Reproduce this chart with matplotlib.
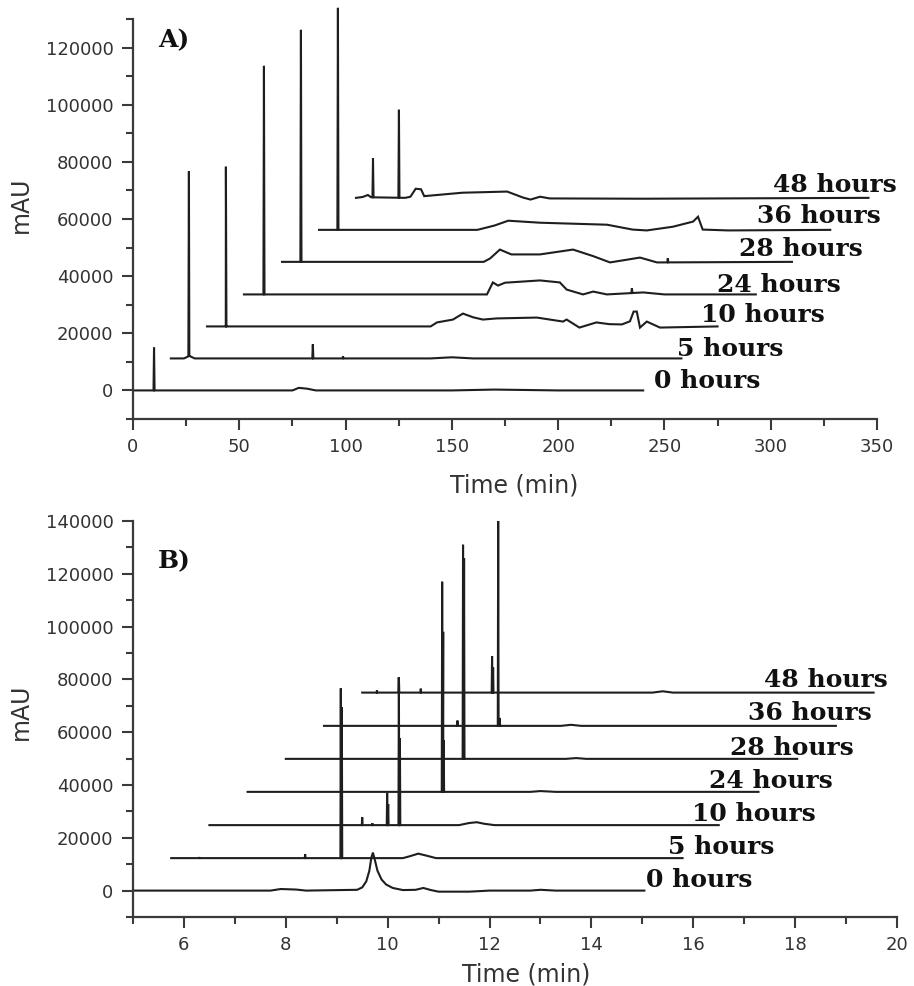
import matplotlib
matplotlib.use("Agg")
import matplotlib.pyplot as plt
import numpy as np
from matplotlib.ticker import MultipleLocator

# --- Panel A: long run (0-350 min), stacked chromatograms ---
A_labels = ["0 hours", "5 hours", "10 hours", "24 hours", "28 hours", "36 hours", "48 hours"]
A_start = [0, 17.8, 34.8, 52.2, 70.1, 87.5, 104.9]
A_end = [240, 258, 275, 293, 310, 328, 346]
A_base = [0, 11200, 22400, 33600, 45000, 56200, 67400]

# slow features: (time, signal above baseline)
A_shape = [
    [(75, 0), (78, 900), (82, 600), (86, 0), (150, 0), (170, 300), (200, 0)],
    [(24, 0), (26.5, 900), (29, 0), (140, 0), (150, 400), (160, 0)],
    [(140, 0), (143, 1400), (150.5, 2400), (155.2, 4500), (160, 3200), (164.6, 2400),
     (171, 2800), (190, 3100), (202.3, 1700), (204, 2400), (210, -400), (218, 1400),
     (224, 800), (230, 700), (233.8, 1800), (235.5, 5200), (237, 5200), (238.5, -400),
     (241.7, 1700), (247.9, -400)],
    [(166.5, 0), (169.3, 4200), (171.7, 3100), (175, 4100), (191.4, 4900), (200.8, 4200),
     (204, 1700), (211.7, 0), (216.5, 1000), (222.9, 0), (240, 700), (250, 0)],
    [(165, 0), (168, 1200), (172.6, 4300), (178, 2600), (191.4, 2600), (207, 4300),
     (216.5, 2000), (224.4, -200), (238.5, 1500), (246.5, -200)],
    [(162, 0), (170, 1500), (176.5, 3200), (191.5, 2500), (223, 1800), (235, 100),
     (241.7, -200), (254, 1100), (263.5, 2900), (265.8, 4600), (268, 100), (280, -200)],
    [(108, 300), (110.5, 1000), (112, 200), (128, 0), (130.5, 400), (133, 3200),
     (135.5, 3000), (137, 600), (155, 1800), (176, 2200), (183.5, 100), (187, -600),
     (191.5, 400), (196, -200), (240, -300)],
]
# sharp peaks: (time, height above baseline)
A_peaks = [
    [(9.9, 15000)],
    [(26.3, 64700), (84.6, 4900), (98.8, 700)],
    [(43.7, 55900), (43.9, 12200)],
    [(61.6, 80000), (234.7, 1700)],
    [(79.0, 81200), (251.6, 1500)],
    [(96.4, 77700)],
    [(112.9, 13700), (125.1, 30800)],
]
A_text_x = [245, 256, 267, 274.7, 285, 293.5, 301]
A_text_y = [1000, 12200, 23800, 34600, 46900, 58700, 69600]

# --- Panel B: short run (5-20 min) ---
B_labels = A_labels
B_start = [5, 5.75, 6.5, 7.25, 8.0, 8.75, 9.5]
B_end = [15.04, 15.79, 16.5, 17.28, 18.04, 18.8, 19.54]
B_base = [0, 12300, 24800, 37400, 49900, 62400, 75000]

B_shape = [
    [(7.7, 0), (7.9, 600), (8.2, 400), (8.4, 0), (9.4, 300), (9.5, 1200), (9.58, 3500),
     (9.64, 7500), (9.68, 12500), (9.71, 14400), (9.75, 11500), (9.8, 7500), (9.88, 4200),
     (9.97, 2300), (10.1, 1000), (10.3, 200), (10.55, 300), (10.7, 1000), (10.85, 200),
     (11.0, -400), (11.6, -400), (12.0, 0), (12.8, 0), (13.0, 300), (13.3, 0)],
    [(10.3, 0), (10.45, 800), (10.6, 1700), (10.75, 1000), (10.95, 0)],
    [(11.4, 0), (11.6, 800), (11.75, 1100), (11.9, 500), (12.1, 0)],
    [(12.8, 0), (13.0, 300), (13.3, 0)],
    [(13.5, 0), (13.7, 300), (13.9, 0)],
    [(13.4, 0), (13.6, 400), (13.8, 0)],
    [(15.2, 0), (15.4, 500), (15.6, 0)],
]
B_peaks = [
    [],
    [(6.3, 300), (8.38, 1500), (9.08, 64300), (9.10, 57200)],
    [(9.5, 3000), (9.7, 700), (9.99, 12200), (10.01, 8000), (10.22, 56000), (10.24, 33000)],
    [(11.07, 79600), (11.09, 60600), (11.10, 19600)],
    [(11.48, 81100), (11.50, 76000)],
    [(11.37, 2000), (12.17, 77600), (12.20, 3000)],
    [(9.79, 800), (10.22, 5800), (10.65, 1500), (12.05, 13800), (12.07, 9600)],
]
B_text_x = [15.08, 15.51, 15.98, 16.3, 16.73, 17.08, 17.38]
B_text_y = [1500, 14000, 26200, 38700, 51200, 64500, 77000]

LINE = "#1e1e1e"
AXC = "#3a3a3a"
LABEL_FONT = dict(family="DejaVu Serif", fontweight="bold", fontsize=18, color="#111111")


def trace(start, end, base, shape, peaks, w):
    # baseline + slow features, then narrow spikes on top
    pts = [(start, 0)] + [p for p in shape if start < p[0] < end] + [(end, 0)]
    tx = np.array([p[0] for p in pts])
    ty = np.array([p[1] for p in pts], dtype=float)
    xs, ys = list(tx), list(ty)
    for t, h in peaks:
        lvl = np.interp(t, tx, ty)
        xs += [t - w, t, t + w]
        ys += [np.interp(t - w, tx, ty), lvl + h, np.interp(t + w, tx, ty)]
    order = np.argsort(xs, kind="stable")
    return np.array(xs)[order], np.array(ys)[order] + base


def style_axes(ax, xmaj, xmin, ymaj, ymin):
    for s in ["top", "right"]:
        ax.spines[s].set_visible(False)
    for s in ["left", "bottom"]:
        ax.spines[s].set_linewidth(1.6)
        ax.spines[s].set_color(AXC)
    ax.xaxis.set_major_locator(MultipleLocator(xmaj))
    ax.xaxis.set_minor_locator(MultipleLocator(xmin))
    ax.yaxis.set_major_locator(MultipleLocator(ymaj))
    ax.yaxis.set_minor_locator(MultipleLocator(ymin))
    ax.tick_params(which="major", direction="out", length=8, width=1.5, color=AXC,
                   labelsize=13, labelcolor="#333333", pad=6)
    ax.tick_params(which="minor", direction="out", length=5, width=1.5, color=AXC)
    ax.set_xlabel("Time (min)", fontsize=17, color="#333333")
    ax.set_ylabel("mAU", fontsize=17, color="#333333")


def draw_panel(ax, labels, starts, ends, bases, shapes, peaks, tx, ty, w):
    for i in range(len(labels)):
        x, y = trace(starts[i], ends[i], bases[i], shapes[i], peaks[i], w)
        ax.plot(x, y, color=LINE, lw=1.5, clip_on=False, solid_joinstyle="miter")
        ax.text(tx[i], ty[i], labels[i], ha="left", va="baseline", **LABEL_FONT)


fig = plt.figure(figsize=(9.14, 9.86), dpi=100)

axA = fig.add_axes([133 / 914, 1 - 419 / 986, 744 / 914, 400 / 986])
draw_panel(axA, A_labels, A_start, A_end, A_base, A_shape, A_peaks, A_text_x, A_text_y, 0.25)
axA.set_xlim(0, 350)
axA.set_ylim(-10000, 130000)
style_axes(axA, 50, 25, 20000, 10000)
axA.xaxis.set_label_coords(0.512, -0.135)
axA.yaxis.set_label_coords(-0.134, 0.535)
axA.text(0.034, 0.978, "A)", transform=axA.transAxes, ha="left", va="top", **LABEL_FONT)

axB = fig.add_axes([133 / 914, 1 - 917 / 986, 764 / 914, 396 / 986])
draw_panel(axB, B_labels, B_start, B_end, B_base, B_shape, B_peaks, B_text_x, B_text_y, 0.008)
axB.set_xlim(5, 20)
axB.set_ylim(-10000, 140000)
style_axes(axB, 2, 1, 20000, 10000)
axB.xaxis.set_label_coords(0.514, -0.116)
axB.yaxis.set_label_coords(-0.131, 0.518)
axB.text(0.032, 0.93, "B)", transform=axB.transAxes, ha="left", va="top", **LABEL_FONT)

fig.savefig("out.png", dpi=100)
